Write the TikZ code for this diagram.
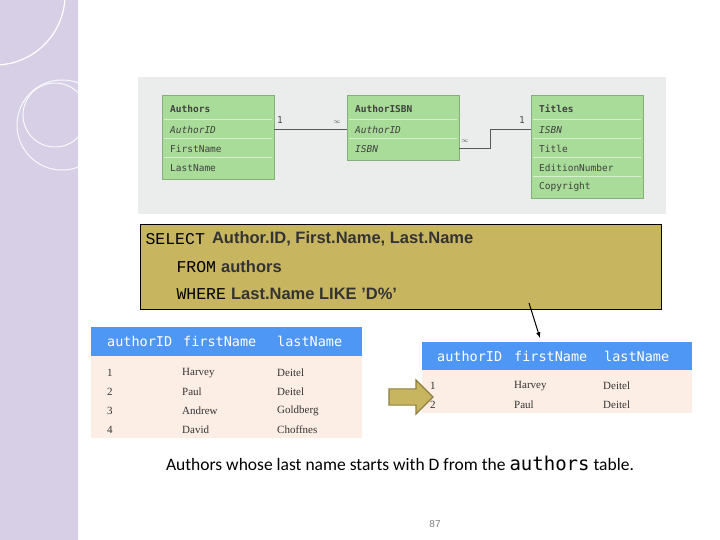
\documentclass[tikz,border=0pt]{standalone}
\usepackage{fontspec}
\setmainfont{Liberation Serif}
\setsansfont{Liberation Sans}
\setmonofont{DejaVu Sans Mono}
\newfontfamily\capfont{Carlito}
\newfontfamily\courfont{Liberation Mono}
\usetikzlibrary{positioning,shapes.arrows}
\definecolor{erbg}{HTML}{EBEDED}
\definecolor{ergreen}{HTML}{A8DC98}
\definecolor{erline}{HTML}{D8F0D0}
\definecolor{sqlbg}{HTML}{C8B560}
\definecolor{hdblue}{HTML}{4F97F5}
\definecolor{rowbg}{HTML}{FDEEE5}
\definecolor{band}{HTML}{D6CFE6}
\tikzset{
  entity/.style={fill=ergreen, draw=ergreen!80!black, line width=.3pt},
  fld/.style={anchor=west, inner sep=0pt, font=\ttfamily\fontsize{9.5}{10}\selectfont, text=black!75},
  fldb/.style={fld, font=\ttfamily\bfseries\fontsize{9.5}{10}\selectfont},
  fldi/.style={fld, font=\ttfamily\itshape\fontsize{9.5}{10}\selectfont},
  sqlkw/.style={anchor=west, font=\courfont\fontsize{16.5}{18}\selectfont},
  sqltxt/.style={anchor=west, font=\sffamily\bfseries\fontsize{16.5}{18}\selectfont, text=black!80},
  colhd/.style={anchor=west, inner sep=0pt, font=\ttfamily\fontsize{13.5}{15}\selectfont, text=white},
  cell/.style={anchor=west, inner sep=0pt, font=\rmfamily\fontsize{11}{12}\selectfont, text=black!80}
}
\begin{document}
\begin{tikzpicture}[x=1pt,y=-1pt]
\useasboundingbox (0,0) rectangle (720,540);
\fill[white] (0,0) rectangle (720,540);
% side band
\fill[band] (0,0) rectangle (78,540);
\begin{scope}
  \clip (0,0) rectangle (78,540);
  \draw[white, line width=1.2pt] (-5,-5) circle (70);
  \draw[white!85!band, line width=1pt] (62,125) circle (45);
  \draw[white!85!band, line width=1pt] (55,115) circle (32);
\end{scope}
% ER diagram
\fill[erbg] (138,77) rectangle (666,214);
\foreach \x/\y/\h in {162/95/84, 347/95/65, 531/95/103}
  \draw[entity] (\x,\y) rectangle ++(112,\h);
\node[fldb] (auh) at (170,109) {Authors};
\node[fldb] (aih) at (355,109) {AuthorISBN};
\node[fldb] (tih) at (539,109) {Titles};
\foreach \x in {162,347,531}
  \foreach \y in {120,139}
    \draw[erline, line width=1pt] (\x+2,\y) -- (\x+110,\y);
\foreach \y in {158} \draw[erline, line width=1pt] (164,\y) -- (272,\y);
\foreach \y in {158,177} \draw[erline, line width=1pt] (533,\y) -- (641,\y);
\node[fldi] (au1) at (170,130) {AuthorID};
\node[fld] (au2) at (170,149) {FirstName};
\node[fld] (au3) at (170,168) {LastName};
\node[fldi] (ai1) at (355,130) {AuthorID};
\node[fldi] (ai2) at (355,149) {ISBN};
\node[fldi] (ti1) at (539,130) {ISBN};
\node[fld] (ti2) at (539,149) {Title};
\node[fld] (ti3) at (539,168) {EditionNumber};
\node[fld] (ti4) at (539,187) {Copyright};
\coordinate (c1) at (274,129);
\coordinate (c2) at (347,129);
\coordinate (c3) at (459,148);
\coordinate (c4) at (531,129);
\draw[black!65, line width=.6pt] (c1) -- (c2);
\draw[black!65, line width=.6pt] (c3) -| (490,129) -- (c4);
\node[font=\ttfamily\fontsize{9.5}{10}\selectfont, text=black!70] at (280,120) {1};
\node[font=\fontsize{6}{6}\selectfont, text=black!70] at (337,122) {$\infty$};
\node[font=\fontsize{6}{6}\selectfont, text=black!70] at (465,141) {$\infty$};
\node[font=\ttfamily\fontsize{9.5}{10}\selectfont, text=black!70] at (522,120) {1};
% SQL box
\draw[fill=sqlbg, line width=.6pt] (140,224) rectangle (661,309);
\node[sqlkw] (sel) at (142,239) {SELECT};
\node[sqltxt, right=0pt of sel] (selt) {Author.ID, First.Name, Last.Name};
\node[sqlkw] (frm) at (173,267) {FROM};
\node[sqltxt, right=-2pt of frm] (frmt) {authors};
\node[sqlkw] (whr) at (173,294) {WHERE};
\node[sqltxt, right=-2pt of whr] (whrt) {Last.Name LIKE 'D\%'};
\coordinate (ptr) at (529,303);
% left table
\fill[rowbg] (91,356) rectangle (362,438);
\fill[hdblue] (91,327) rectangle (362,356);
\node[colhd] (lh1) at (107,341) {authorID};
\node[colhd] (lh2) at (183,341) {firstName};
\node[colhd] (lh3) at (277,341) {lastName};
\foreach \i/\f/\l [count=\n] in {1/Harvey/Deitel,2/Paul/Deitel,3/Andrew/Goldberg,4/David/Choffnes}{
  \node[cell] at (107,354+19*\n) {\i};
  \node[cell] at (182,354+19*\n) {\f};
  \node[cell] at (277,354+19*\n) {\l};
}
% right table
\fill[rowbg] (422,370) rectangle (692,413);
\fill[hdblue] (422,342) rectangle (692,370);
\node[colhd] (rh) at (437,356) {authorID};
\node[colhd] at (514,356) {firstName};
\node[colhd] at (604,356) {lastName};
\foreach \i/\f/\l [count=\n] in {1/Harvey/Deitel,2/Paul/Deitel}{
  \node[cell] at (430,367+19*\n) {\i};
  \node[cell] at (514,367+19*\n) {\f};
  \node[cell] at (603,367+19*\n) {\l};
}
\coordinate (rtop) at (540,338);
\draw[-latex, line width=1pt] (ptr) -- (rtop);
% big arrow
\node[single arrow, fill=sqlbg, draw=sqlbg!70!black, line width=1.2pt,
  minimum height=44pt, minimum width=34pt, single arrow head extend=5pt,
  inner sep=4pt] (big) at (407,397) {};
% caption
\node[font=\capfont\fontsize{17.5}{20}\selectfont] (cap) at (400,463)
  {Authors whose last name starts with D from the \texttt{\fontsize{19}{21}\selectfont authors} table.};
\node[font=\sffamily\fontsize{10}{11}\selectfont, text=black!50] (pg) at (435,524) {87};
\end{tikzpicture}
\end{document}
